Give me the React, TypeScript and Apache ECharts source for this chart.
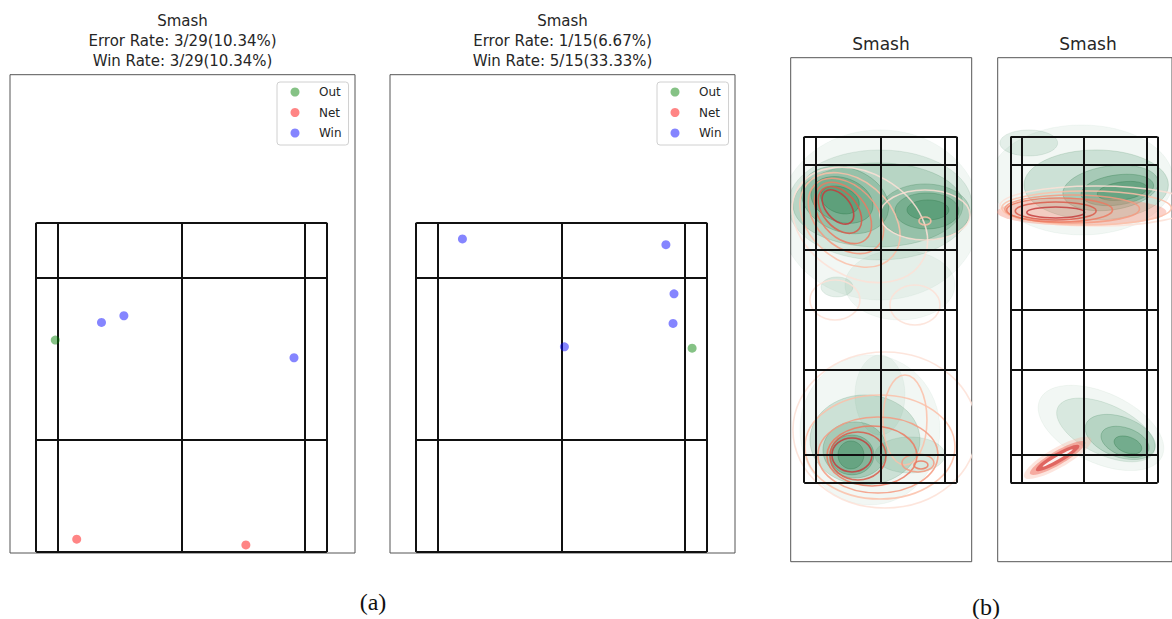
import React, { useEffect, useRef } from "react";
import * as echarts from "echarts";

// ---------- panel (a): shot landing points ----------
const a1Out = [[40, 444]];
const a1Net = [[85, 27], [440, 15]];
const a1Win = [[137, 481], [184, 495], [541, 407]];
const a2Out = [[579, 427]];
const a2Net: number[][] = [];
const a2Win = [[97, 656], [524, 644], [541, 541], [539, 479], [311, 430]];

const a1Title = ["Smash", "Error Rate: 3/29(10.34%)", "Win Rate: 3/29(10.34%)"];
const a2Title = ["Smash", "Error Rate: 1/15(6.67%)", "Win Rate: 5/15(33.33%)"];
const legendNames = ["Out", "Net", "Win"];

// court geometry (cm-like units)
const courtX = [0, 46, 305, 564, 610];
const courtYA = [0, 235, 575, 690];
const courtYB = [-692, -579, -239, 0, 239, 579, 692];

// ---------- panel (b): density contours [cx, cy, rx, ry, angleDeg, level] ----------
const b1Green = [
  [303, 379, 400, 340, 0, 1],
  [383, 99, 220, 140, 0, 1],
  [303, 419, 368, 220, 0, 2],
  [131, 91, 64, 40, 0, 2],
  [295, 419, 340, 168, 0, 3],
  [163, 439, 180, 128, -20, 4],
  [151, 439, 128, 88, -20, 5],
  [143, 439, 80, 52, -20, 6],
  [483, 391, 180, 112, 0, 4],
  [491, 395, 128, 72, 0, 5],
  [495, 399, 84, 40, 0, 6],
  [263, -481, 280, 300, 0, 1],
  [303, -341, 100, 160, 0, 1],
  [423, -581, 140, 72, 0, 2],
  [243, -521, 220, 180, 0, 3],
  [203, -561, 128, 112, 0, 4],
  [191, -581, 88, 80, 0, 5],
  [187, -581, 52, 56, 0, 6],
];
const b1Red = [
  [223, 339, 288, 208, -30, 1],
  [183, 359, 224, 160, -40, 2],
  [167, 375, 176, 120, -45, 3],
  [155, 387, 140, 92, -50, 4],
  [143, 399, 108, 68, -50, 5],
  [135, 411, 80, 48, -50, 6],
  [483, 379, 180, 100, 0, 1],
  [483, 355, 24, 16, 0, 2],
  [123, 39, 100, 80, 0, 1],
  [443, 19, 100, 80, 0, 1],
  [323, -481, 368, 312, 0, 1],
  [303, -549, 300, 208, 0, 2],
  [403, -441, 88, 180, 0, 2],
  [295, -581, 240, 152, 0, 3],
  [271, -585, 180, 120, 0, 4],
  [215, -585, 112, 96, 0, 5],
  [191, -581, 80, 68, 0, 6],
  [455, -613, 64, 36, 0, 3],
  [467, -621, 28, 16, 0, 4],
];
const b2Green = [
  [295, 519, 380, 220, 0, 1],
  [75, 667, 120, 52, 0, 2],
  [355, 499, 300, 140, 0, 3],
  [415, 487, 200, 88, 8, 4],
  [443, 479, 152, 60, 8, 5],
  [463, 475, 104, 36, 8, 6],
  [375, -473, 280, 140, -25, 1],
  [395, -481, 220, 100, -25, 2],
  [455, -509, 152, 80, -20, 3],
  [475, -529, 104, 56, -20, 4],
  [487, -541, 60, 32, -20, 6],
];
const b2RedFill = [
  [295, 391, 352, 56, 0, 2],
  [195, -593, 160, 40, 30, 1],
  [195, -593, 132, 28, 30, 3],
  [195, -593, 104, 20, 30, 5],
  [195, -593, 72, 6, 30, 0],
];
const b2Red = [
  [355, 415, 400, 80, 0, 1],
  [315, 407, 352, 68, 0, 2],
  [255, 403, 280, 56, 0, 3],
  [203, 399, 220, 48, 0, 4],
  [187, 395, 168, 36, 0, 5],
  [187, 389, 120, 22, 0, 6],
];

const GREEN_ALPHA = [0, 0.06, 0.12, 0.18, 0.22, 0.26, 0.3];
const GREEN_STROKE = [0, 0.06, 0.12, 0.2, 0.28, 0.32, 0.36];
const RED_LINE = ["#ffffff", "#fde0d6", "#fbbfa8", "#f59a80", "#ec7a62", "#db5a4a", "#c43c3c"];
const RED_FILL = [
  "rgba(255,255,255,0.9)",
  "rgba(250,180,160,0.35)",
  "rgba(245,140,120,0.4)",
  "rgba(238,100,85,0.45)",
  "rgba(225,70,60,0.5)",
  "rgba(205,45,45,0.55)",
  "rgba(180,30,30,0.6)",
];

const FONT = "DejaVu Sans";

function courtSegments(ys: number[]) {
  const segs: any[] = [];
  const y0 = ys[0];
  const y1 = ys[ys.length - 1];
  courtX.forEach((x) => segs.push({ coords: [[x, y0], [x, y1]] }));
  ys.forEach((y) => segs.push({ coords: [[courtX[0], y], [courtX[courtX.length - 1], y]] }));
  return segs;
}

function ellipseSeries(data: number[][], gi: number, kind: "green" | "redLine" | "redFill", z: number) {
  return {
    type: "custom",
    xAxisIndex: gi,
    yAxisIndex: gi,
    coordinateSystem: "cartesian2d",
    clip: true,
    z,
    silent: true,
    encode: { x: 0, y: 1 },
    data,
    renderItem: (params: any, api: any) => {
      const c = api.coord([api.value(0), api.value(1)]);
      const s = api.size([api.value(2), api.value(3)]);
      const lvl = api.value(5);
      let style: any;
      if (kind === "green") {
        style = {
          fill: `rgba(35,125,75,${GREEN_ALPHA[lvl]})`,
          stroke: `rgba(30,110,60,${GREEN_STROKE[lvl]})`,
          lineWidth: 0.8,
        };
      } else if (kind === "redLine") {
        style = { fill: "none", stroke: RED_LINE[lvl], lineWidth: 1.6, opacity: 0.85 };
      } else {
        style = { fill: RED_FILL[lvl], stroke: "none" };
      }
      return {
        type: "ellipse",
        x: c[0],
        y: c[1],
        rotation: (api.value(4) * Math.PI) / 180,
        shape: { cx: 0, cy: 0, rx: s[0], ry: s[1] },
        style,
      };
    },
  };
}

function scatter(name: string, data: number[][], gi: number, color: string) {
  return {
    type: "scatter",
    name,
    xAxisIndex: gi,
    yAxisIndex: gi,
    data,
    symbolSize: 9,
    itemStyle: { color },
    z: 6,
  };
}

function court(ys: number[], gi: number) {
  return {
    type: "lines",
    coordinateSystem: "cartesian2d",
    xAxisIndex: gi,
    yAxisIndex: gi,
    polyline: false,
    silent: true,
    z: 5,
    lineStyle: { color: "#111", width: 2, opacity: 1 },
    data: courtSegments(ys),
  };
}

const C_OUT = "rgba(0,128,0,0.6)";
const C_NET = "rgba(255,0,0,0.6)";
const C_WIN = "rgba(0,0,255,0.6)";

function legend(left: number) {
  return {
    left,
    top: 82,
    orient: "vertical",
    data: legendNames,
    icon: "circle",
    itemWidth: 9,
    itemHeight: 9,
    itemGap: 6.5,
    selectedMode: false,
    padding: [3, 7, 5, 13.5],
    backgroundColor: "#fff",
    borderColor: "#d0d0d0",
    borderWidth: 1,
    borderRadius: 3,
    textStyle: { fontFamily: FONT, fontSize: 12, color: "#262626", lineHeight: 14, padding: [0, 0, 0, 14.5] },
  };
}

function titleTexts(lines: string[], cx: number, y0: number, size: number) {
  return lines.map((t, i) => ({
    type: "text",
    x: cx,
    y: y0 + i * 20,
    style: { text: t, fontFamily: FONT, fontSize: size, fill: "#262626", align: "center", verticalAlign: "middle" },
  }));
}

const gridBase = { show: true, borderColor: "#555", borderWidth: 1, backgroundColor: "transparent" };

const option: any = {
  animation: false,
  backgroundColor: "#fff",
  grid: [
    { ...gridBase, left: 10, top: 74.7, width: 345, height: 478.3 },
    { ...gridBase, left: 390, top: 74.7, width: 345, height: 478.3 },
    { ...gridBase, left: 790.7, top: 57.7, width: 181, height: 504 },
    { ...gridBase, left: 997.7, top: 57.7, width: 181, height: 504 },
  ],
  xAxis: [
    { gridIndex: 0, type: "value", min: -55, max: 669, show: false },
    { gridIndex: 1, type: "value", min: -55, max: 669, show: false },
    { gridIndex: 2, type: "value", min: -54, max: 670, show: false },
    { gridIndex: 3, type: "value", min: -54, max: 670, show: false },
  ],
  yAxis: [
    { gridIndex: 0, type: "value", min: -2, max: 1000, show: false },
    { gridIndex: 1, type: "value", min: -2, max: 1000, show: false },
    { gridIndex: 2, type: "value", min: -1008, max: 1008, show: false },
    { gridIndex: 3, type: "value", min: -1008, max: 1008, show: false },
  ],
  legend: [legend(277), legend(657)],
  graphic: [
    ...titleTexts(a1Title, 182.5, 20.5, 15),
    ...titleTexts(a2Title, 562.5, 20.5, 15),
    ...titleTexts(["Smash"], 881, 43.5, 17),
    ...titleTexts(["Smash"], 1088, 43.5, 17),
    {
      type: "text",
      x: 373,
      y: 602,
      style: { text: "(a)", fontFamily: "Liberation Serif", fontSize: 24, fill: "#111", align: "center", verticalAlign: "middle" },
    },
    {
      type: "text",
      x: 986,
      y: 607,
      style: { text: "(b)", fontFamily: "Liberation Serif", fontSize: 24, fill: "#111", align: "center", verticalAlign: "middle" },
    },
  ],
  series: [
    court(courtYA, 0),
    court(courtYA, 1),
    scatter("Out", a1Out, 0, C_OUT),
    scatter("Net", a1Net, 0, C_NET),
    scatter("Win", a1Win, 0, C_WIN),
    scatter("Out", a2Out, 1, C_OUT),
    scatter("Net", a2Net, 1, C_NET),
    scatter("Win", a2Win, 1, C_WIN),
    ellipseSeries(b1Green, 2, "green", 1),
    ellipseSeries(b1Red, 2, "redLine", 2),
    court(courtYB, 2),
    ellipseSeries(b2Green, 3, "green", 1),
    ellipseSeries(b2RedFill, 3, "redFill", 2),
    ellipseSeries(b2Red, 3, "redLine", 3),
    court(courtYB, 3),
  ],
};

export default function App() {
  const ref = useRef<HTMLDivElement>(null);
  useEffect(() => {
    const chart = echarts.init(ref.current!, null, { renderer: "svg" });
    chart.setOption(option);
    return () => chart.dispose();
  }, []);
  return (
    <div
      ref={ref}
      style={{ position: "fixed", left: 0, top: 0, width: 1172, height: 619, background: "#fff" }}
    />
  );
}
